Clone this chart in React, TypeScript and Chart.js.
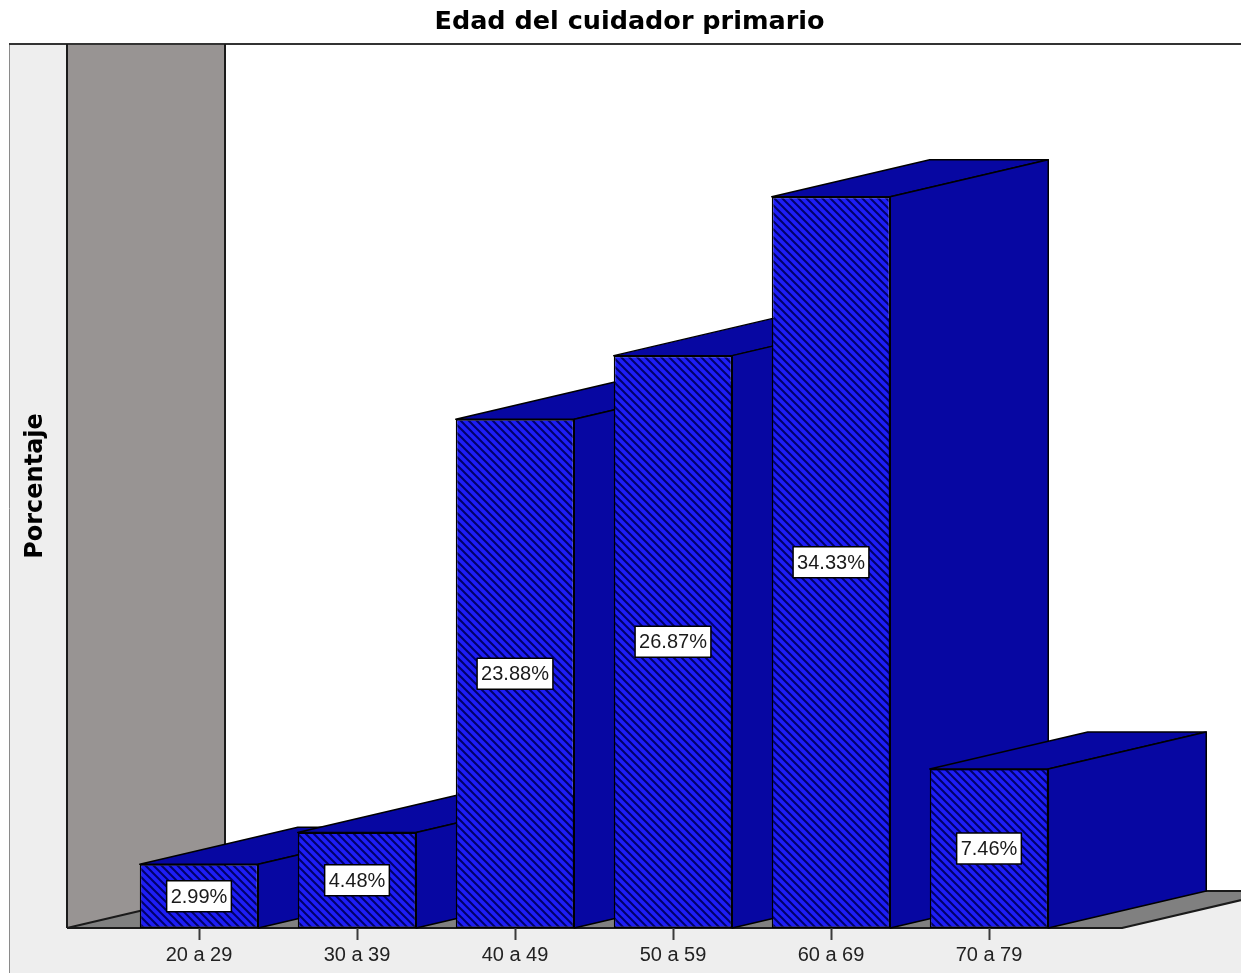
import { useEffect, useRef } from 'react';
import { Chart, registerables } from 'chart.js';

Chart.register(...registerables);

// Age groups and their share of primary caregivers (%)
const categories = ['20 a 29', '30 a 39', '40 a 49', '50 a 59', '60 a 69', '70 a 79'];
const percentages = [2.99, 4.48, 23.88, 26.87, 34.33, 7.46];
const chartTitle = 'Edad del cuidador primario';
const yAxisTitle = 'Porcentaje';

const FRONT_BLUE = '#1e1ef6';
const HATCH_NAVY = '#00006a';
const DEPTH_BLUE = '#0707a2';
const PANEL_GRAY = '#eeeeee';
const WALL_GRAY = '#989493';
const FLOOR_GRAY = '#808080';
const EDGE = '#000000';

// oblique projection: depth runs one category to the right and this fraction of it upward
const DEPTH_SLOPE = 37 / 158;

function makeHatch(): CanvasPattern | string {
  const c = document.createElement('canvas');
  c.width = 8;
  c.height = 8;
  const g = c.getContext('2d');
  if (!g) return FRONT_BLUE;
  g.fillStyle = FRONT_BLUE;
  g.fillRect(0, 0, 8, 8);
  g.strokeStyle = HATCH_NAVY;
  g.lineWidth = 2;
  g.beginPath();
  for (let k = -1; k <= 1; k++) {
    g.moveTo(k * 8 - 2, -2);
    g.lineTo(k * 8 + 10, 10);
  }
  g.stroke();
  return g.createPattern(c, 'repeat') ?? FRONT_BLUE;
}

type Pt = [number, number];

function face(ctx: CanvasRenderingContext2D, pts: Pt[], fill: string, stroke = EDGE, lw = 1.5) {
  ctx.beginPath();
  ctx.moveTo(pts[0][0], pts[0][1]);
  for (let i = 1; i < pts.length; i++) ctx.lineTo(pts[i][0], pts[i][1]);
  ctx.closePath();
  ctx.fillStyle = fill;
  ctx.fill();
  if (stroke) {
    ctx.strokeStyle = stroke;
    ctx.lineWidth = lw;
    ctx.lineJoin = 'round';
    ctx.stroke();
  }
}

function depthOf(chart: any) {
  const xs = chart.scales.x;
  const dx = xs.getPixelForValue(1) - xs.getPixelForValue(0);
  return { dx, dy: -dx * DEPTH_SLOPE };
}

const scenePlugin = {
  id: 'scene3d',
  // panels, side wall and floor behind everything
  beforeDraw(chart: any) {
    const { ctx, chartArea: a } = chart;
    const W = chart.width;
    const H = chart.height;
    const { dx, dy } = depthOf(chart);
    const frameL = 10;
    const top = a.top;
    const base = a.bottom;
    const wallX = a.left - 53;
    const floorR = a.right + 54;

    ctx.save();
    ctx.fillStyle = PANEL_GRAY;
    ctx.fillRect(frameL, top, W - frameL, H - top);
    ctx.fillStyle = '#ffffff';
    ctx.fillRect(wallX + dx, top, W - wallX - dx, base + dy - top);

    face(ctx, [[wallX, top], [wallX + dx, top], [wallX + dx, base + dy], [wallX, base]], WALL_GRAY, '', 0);
    face(ctx, [[wallX, base], [wallX + dx, base + dy], [floorR + dx, base + dy], [floorR, base]], FLOOR_GRAY, '', 0);

    ctx.lineCap = 'butt';
    ctx.lineJoin = 'round';
    // outer frame
    ctx.strokeStyle = '#8a8a8a';
    ctx.lineWidth = 1;
    ctx.beginPath();
    ctx.moveTo(frameL - 0.5, top);
    ctx.lineTo(frameL - 0.5, H);
    ctx.stroke();
    ctx.strokeStyle = '#333333';
    ctx.lineWidth = 2;
    ctx.beginPath();
    ctx.moveTo(frameL - 1, top);
    ctx.lineTo(W, top);
    ctx.stroke();

    // wall and floor edges
    ctx.strokeStyle = '#1a1a1a';
    ctx.lineWidth = 2;
    ctx.beginPath();
    ctx.moveTo(wallX, top);
    ctx.lineTo(wallX, base);
    ctx.moveTo(wallX + dx, top);
    ctx.lineTo(wallX + dx, base + dy);
    ctx.lineTo(W, base + dy);
    ctx.moveTo(wallX, base);
    ctx.lineTo(wallX + dx, base + dy);
    ctx.moveTo(wallX, base);
    ctx.lineTo(floorR, base);
    ctx.lineTo(floorR + dx, base + dy);
    ctx.stroke();
    ctx.restore();
  },
  // bars are painted back-to-front by hand below
  beforeDatasetDraw() {
    return false;
  },
  afterDatasetsDraw(chart: any) {
    const { ctx } = chart;
    const { dx, dy } = depthOf(chart);
    const meta = chart.getDatasetMeta(0);
    const values = chart.data.datasets[0].data as number[];
    ctx.save();
    meta.data.forEach((el: any) => {
      const { x, y, base, width } = el.getProps(['x', 'y', 'base', 'width'], true);
      const L = x - width / 2;
      const R = x + width / 2;
      face(ctx, [[L, y], [L + dx, y + dy], [R + dx, y + dy], [R, y]], DEPTH_BLUE);
      face(ctx, [[R, y], [R + dx, y + dy], [R + dx, base + dy], [R, base]], DEPTH_BLUE);
      el.draw(ctx, chart.chartArea);
    });

    // value boxes on the front faces
    ctx.font = '20px "Liberation Sans", Arial, sans-serif';
    ctx.textAlign = 'center';
    ctx.textBaseline = 'middle';
    meta.data.forEach((el: any, i: number) => {
      const { x, y, base } = el.getProps(['x', 'y', 'base'], true);
      const text = `${values[i].toFixed(2)}%`;
      const tw = ctx.measureText(text).width;
      const bw = tw + 8;
      const bh = 31;
      const cy = (y + base) / 2;
      ctx.fillStyle = '#ffffff';
      ctx.fillRect(x - bw / 2, cy - bh / 2, bw, bh);
      ctx.strokeStyle = '#000000';
      ctx.lineWidth = 1.5;
      ctx.strokeRect(x - bw / 2, cy - bh / 2, bw, bh);
      ctx.fillStyle = '#1a1a1a';
      ctx.fillText(text, x, cy + 1);
    });
    ctx.restore();
  },
};

export default function App() {
  const canvasRef = useRef<HTMLCanvasElement>(null);

  useEffect(() => {
    const canvas = canvasRef.current;
    if (!canvas) return;
    const chart = new Chart(canvas, {
      type: 'bar',
      data: {
        labels: categories,
        datasets: [
          {
            data: percentages,
            backgroundColor: makeHatch() as any,
            borderColor: EDGE,
            borderWidth: 1.5,
            borderSkipped: false,
            barPercentage: 0.75,
            categoryPercentage: 1,
          },
        ],
      },
      options: {
        animation: false,
        responsive: true,
        maintainAspectRatio: false,
        devicePixelRatio: 1,
        events: [],
        layout: { padding: { left: 18, right: 0, top: 0, bottom: 0 } },
        plugins: {
          legend: { display: false },
          tooltip: { enabled: false },
          title: {
            display: true,
            text: chartTitle,
            color: '#000000',
            font: { family: 'DejaVu Sans', weight: 'bold', size: 25.5, lineHeight: 1.2 },
            padding: { top: 7, bottom: 6.4 },
          },
        },
        scales: {
          x: {
            type: 'category',
            offset: true,
            grid: {
              display: true,
              drawOnChartArea: false,
              drawTicks: true,
              tickLength: 12,
              tickWidth: 2,
              tickColor: '#3a3a3a',
              offset: false,
            },
            border: { display: false },
            ticks: {
              color: '#222222',
              font: { family: 'Liberation Sans', size: 20 },
              padding: 3,
              maxRotation: 0,
              autoSkip: false,
            },
            afterFit: (s: any) => {
              s.height = 45;
            },
          },
          y: {
            type: 'linear',
            position: 'left',
            min: 0,
            max: 41.5,
            grid: { display: false },
            border: { display: false },
            ticks: { display: false },
            title: {
              display: true,
              text: yAxisTitle,
              color: '#000000',
              font: { family: 'DejaVu Sans', weight: 'bold', size: 24, lineHeight: 1.2 },
              padding: { top: 3, bottom: 0 },
            },
            afterFit: (s: any) => {
              s.width = 102;
            },
          },
          right: {
            type: 'linear',
            position: 'right',
            display: true,
            grid: { display: false },
            border: { display: false },
            ticks: { display: false },
            afterFit: (s: any) => {
              s.width = 173;
            },
          },
        },
      },
      plugins: [scenePlugin],
    });
    return () => chart.destroy();
  }, []);

  return (
    <div style={{ position: 'fixed', left: 0, top: 0, width: 1241, height: 973, background: '#ffffff' }}>
      <canvas ref={canvasRef} />
    </div>
  );
}
